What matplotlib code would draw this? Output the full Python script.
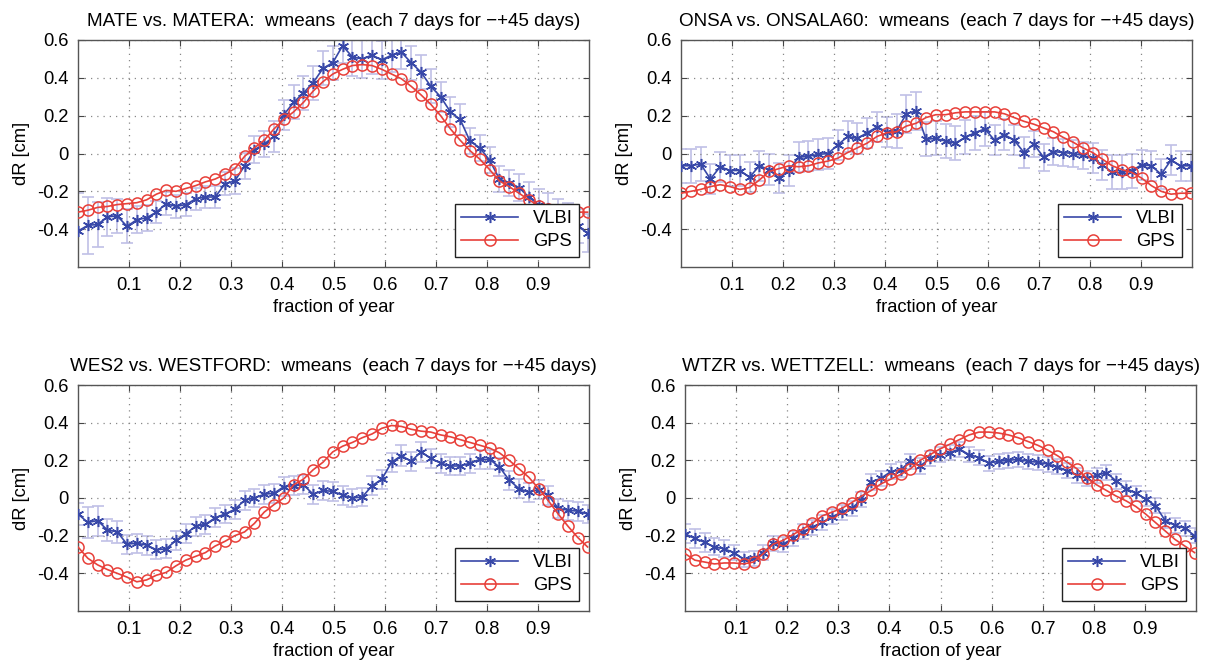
import numpy as np
import matplotlib
matplotlib.use("Agg")
import matplotlib.pyplot as plt

plt.rcParams['font.family'] = ['Liberation Sans', 'DejaVu Sans']
plt.rcParams['axes.unicode_minus'] = False

# sampling grid: every 7 days over one year
days = np.arange(0, 365, 7)
frac = days / 365.0

titles = [
    "MATE vs. MATERA:  wmeans  (each 7 days for \u2212+45 days)",
    "ONSA vs. ONSALA60:  wmeans  (each 7 days for \u2212+45 days)",
    "WES2 vs. WESTFORD:  wmeans  (each 7 days for \u2212+45 days)",
    "WTZR vs. WETTZELL:  wmeans  (each 7 days for \u2212+45 days)",
]

vlbi_mate = [-0.41, -0.38, -0.375, -0.335, -0.33, -0.385, -0.35, -0.34, -0.31, -0.265,
             -0.28, -0.27, -0.24, -0.23, -0.23, -0.16, -0.145, -0.065, 0.02, 0.05,
             0.09, 0.205, 0.27, 0.32, 0.375, 0.45, 0.48, 0.57, 0.51, 0.50,
             0.52, 0.495, 0.52, 0.535, 0.48, 0.43, 0.355, 0.30, 0.22, 0.18,
             0.065, 0.03, -0.035, -0.135, -0.155, -0.18, -0.23, -0.27, -0.29, -0.32,
             -0.35, -0.385, -0.42]
gps_mate = [-0.31, -0.30, -0.285, -0.28, -0.27, -0.265, -0.26, -0.245, -0.215, -0.195,
            -0.2, -0.185, -0.17, -0.15, -0.135, -0.11, -0.08, -0.015, 0.03, 0.07,
            0.13, 0.18, 0.22, 0.27, 0.33, 0.38, 0.42, 0.445, 0.465, 0.47,
            0.465, 0.445, 0.42, 0.395, 0.355, 0.31, 0.26, 0.20, 0.13, 0.07,
            0.015, -0.03, -0.085, -0.145, -0.175, -0.21, -0.245, -0.275, -0.295, -0.305,
            -0.31, -0.31, -0.31]
err_mate = [0.20, 0.15, 0.12, 0.10, 0.09, 0.09, 0.07, 0.07, 0.06, 0.06,
            0.06, 0.06, 0.06, 0.06, 0.06, 0.06, 0.07, 0.07, 0.07, 0.07,
            0.08, 0.08, 0.09, 0.09, 0.09, 0.09, 0.09, 0.09, 0.10, 0.10,
            0.10, 0.10, 0.09, 0.09, 0.09, 0.09, 0.09, 0.08, 0.08, 0.08,
            0.07, 0.07, 0.07, 0.07, 0.07, 0.07, 0.08, 0.08, 0.08, 0.08,
            0.09, 0.09, 0.10]

vlbi_onsa = [-0.065, -0.065, -0.055, -0.135, -0.07, -0.09, -0.09, -0.125, -0.065, -0.085,
             -0.13, -0.09, -0.02, -0.015, -0.005, 0.0, 0.045, 0.09, 0.08, 0.11,
             0.14, 0.115, 0.12, 0.21, 0.225, 0.075, 0.08, 0.065, 0.055, 0.085,
             0.11, 0.13, 0.07, 0.10, 0.07, 0.005, 0.05, -0.02, 0.01, 0.005,
             0.0, -0.01, -0.025, -0.06, -0.1, -0.1, -0.09, -0.06, -0.065, -0.11,
             -0.035, -0.065, -0.065]
gps_onsa = [-0.21, -0.2, -0.19, -0.175, -0.165, -0.175, -0.19, -0.18, -0.14, -0.095,
            -0.08, -0.065, -0.07, -0.065, -0.05, -0.04, -0.025, 0.005, 0.03, 0.055,
            0.09, 0.11, 0.115, 0.145, 0.16, 0.19, 0.205, 0.205, 0.215, 0.22,
            0.22, 0.22, 0.22, 0.21, 0.19, 0.17, 0.155, 0.135, 0.115, 0.085,
            0.06, 0.03, 0.005, -0.03, -0.065, -0.085, -0.1, -0.13, -0.17, -0.2,
            -0.215, -0.21, -0.21]
err_onsa = [0.09, 0.09, 0.09, 0.08, 0.08, 0.08, 0.08, 0.08, 0.08, 0.08,
            0.08, 0.08, 0.08, 0.08, 0.08, 0.08, 0.08, 0.08, 0.08, 0.08,
            0.08, 0.08, 0.09, 0.10, 0.10, 0.09, 0.09, 0.09, 0.09, 0.09,
            0.09, 0.09, 0.08, 0.08, 0.08, 0.08, 0.07, 0.07, 0.07, 0.07,
            0.07, 0.07, 0.08, 0.08, 0.09, 0.09, 0.09, 0.08, 0.08, 0.08,
            0.08, 0.08, 0.08]

vlbi_wes2 = [-0.085, -0.13, -0.12, -0.17, -0.18, -0.245, -0.24, -0.25, -0.275, -0.27,
             -0.225, -0.19, -0.15, -0.14, -0.105, -0.085, -0.06, -0.012, 0.0, 0.02,
             0.025, 0.06, 0.065, 0.07, 0.02, 0.04, 0.035, 0.015, 0.0, 0.005,
             0.065, 0.1, 0.19, 0.225, 0.195, 0.245, 0.21, 0.185, 0.17, 0.17,
             0.185, 0.205, 0.205, 0.165, 0.095, 0.05, 0.03, 0.045, 0.015, -0.055,
             -0.065, -0.07, -0.085]
gps_wes2 = [-0.26, -0.32, -0.355, -0.38, -0.4, -0.42, -0.445, -0.435, -0.41, -0.395,
            -0.36, -0.33, -0.31, -0.29, -0.255, -0.23, -0.2, -0.18, -0.135, -0.075,
            -0.035, 0.0, 0.07, 0.1, 0.15, 0.19, 0.245, 0.275, 0.295, 0.32,
            0.34, 0.37, 0.385, 0.38, 0.365, 0.355, 0.35, 0.335, 0.325, 0.31,
            0.295, 0.28, 0.265, 0.24, 0.2, 0.155, 0.11, 0.05, -0.015, -0.085,
            -0.15, -0.21, -0.26]
err_wes2 = [0.06, 0.08, 0.08, 0.06, 0.06, 0.05, 0.05, 0.05, 0.05, 0.05,
            0.05, 0.05, 0.05, 0.05, 0.05, 0.05, 0.05, 0.05, 0.05, 0.05,
            0.05, 0.05, 0.05, 0.05, 0.05, 0.05, 0.05, 0.05, 0.05, 0.05,
            0.05, 0.05, 0.05, 0.055, 0.05, 0.055, 0.05, 0.05, 0.05, 0.05,
            0.05, 0.05, 0.05, 0.05, 0.05, 0.05, 0.05, 0.05, 0.05, 0.05,
            0.05, 0.05, 0.05]

vlbi_wtzr = [-0.19, -0.215, -0.235, -0.26, -0.27, -0.29, -0.325, -0.32, -0.29, -0.24,
             -0.245, -0.215, -0.18, -0.155, -0.13, -0.1, -0.075, -0.055, -0.01, 0.085,
             0.105, 0.14, 0.15, 0.195, 0.17, 0.21, 0.23, 0.24, 0.26, 0.23,
             0.215, 0.185, 0.195, 0.2, 0.205, 0.195, 0.19, 0.18, 0.165, 0.145,
             0.12, 0.105, 0.12, 0.135, 0.09, 0.05, 0.025, -0.005, -0.04, -0.12,
             -0.145, -0.16, -0.2]
gps_wtzr = [-0.295, -0.33, -0.34, -0.35, -0.345, -0.345, -0.35, -0.34, -0.295, -0.245,
            -0.225, -0.195, -0.165, -0.135, -0.095, -0.075, -0.055, -0.025, 0.01, 0.04,
            0.075, 0.10, 0.125, 0.155, 0.2, 0.23, 0.26, 0.285, 0.31, 0.335,
            0.35, 0.35, 0.345, 0.335, 0.32, 0.30, 0.28, 0.255, 0.225, 0.19,
            0.155, 0.105, 0.07, 0.04, 0.01, -0.015, -0.045, -0.085, -0.13, -0.175,
            -0.22, -0.255, -0.29]
err_wtzr = [0.05, 0.05, 0.05, 0.045, 0.045, 0.04, 0.04, 0.04, 0.04, 0.04,
            0.04, 0.04, 0.04, 0.04, 0.04, 0.04, 0.04, 0.04, 0.04, 0.04,
            0.04, 0.04, 0.04, 0.04, 0.04, 0.04, 0.04, 0.04, 0.04, 0.04,
            0.04, 0.04, 0.04, 0.04, 0.04, 0.04, 0.04, 0.04, 0.04, 0.04,
            0.04, 0.04, 0.04, 0.04, 0.04, 0.04, 0.04, 0.04, 0.04, 0.04,
            0.04, 0.04, 0.04]

vlbi_all = [vlbi_mate, vlbi_onsa, vlbi_wes2, vlbi_wtzr]
gps_all = [gps_mate, gps_onsa, gps_wes2, gps_wtzr]
err_all = [err_mate, err_onsa, err_wes2, err_wtzr]

W, H = 1207, 662
# axes boxes in pixels: left, top, right, bottom
boxes = [(78, 40, 589, 267), (681, 40, 1192, 267),
         (78, 385, 589, 611), (685, 385, 1196, 611)]

blue = '#3848a8'
red = '#e8403a'
errc = '#c0c0e6'
fs = 13.2

fig = plt.figure(figsize=(W / 100, H / 100), dpi=100)

for k in range(4):
    l, t, r, b = boxes[k]
    ax = fig.add_axes([l / W, 1 - b / H, (r - l) / W, (b - t) / H])
    ax.errorbar(frac, vlbi_all[k], yerr=err_all[k], fmt='none', ecolor=errc,
                elinewidth=1.2, capsize=4, capthick=1.2, zorder=1)
    ax.plot(frac, vlbi_all[k], color=blue, marker=(6, 2, 0), markersize=8,
            markeredgewidth=1.1, linewidth=1.2, label='VLBI', zorder=3)
    ax.plot(frac, gps_all[k], color=red, marker='o', markersize=8,
            markerfacecolor='none', markeredgewidth=1.1, linewidth=1.2,
            label='GPS', zorder=4)
    ax.set_xlim(0, 1)
    ax.set_ylim(-0.6, 0.6)
    ax.set_xticks([0.1, 0.2, 0.3, 0.4, 0.5, 0.6, 0.7, 0.8, 0.9])
    ax.set_xticklabels(['0.1', '0.2', '0.3', '0.4', '0.5', '0.6', '0.7', '0.8', '0.9'])
    ax.set_yticks([-0.4, -0.2, 0, 0.2, 0.4, 0.6])
    ax.set_yticklabels(['-0.4', '-0.2', '0', '0.2', '0.4', '0.6'])
    ax.grid(True, linestyle=(0, (1, 4)), color='#888888', linewidth=0.9)
    ax.tick_params(direction='in', top=True, right=True, length=4,
                   labelsize=fs, color='#444444', pad=7)
    for s in ax.spines.values():
        s.set_color('#555555')
        s.set_linewidth(1.0)
    ax.set_title(titles[k], fontsize=13.6, pad=10)
    ax.set_xlabel('fraction of year', fontsize=fs, labelpad=4)
    ax.set_ylabel('dR [cm]', fontsize=fs, labelpad=5)
    leg = ax.legend(loc='lower right', fontsize=fs, fancybox=False,
                    framealpha=1, edgecolor='#222222', handlelength=3.1,
                    borderaxespad=0.55, borderpad=0.35, labelspacing=0.35)
    leg.get_frame().set_linewidth(1.0)

fig.savefig('out.png', dpi=100)
